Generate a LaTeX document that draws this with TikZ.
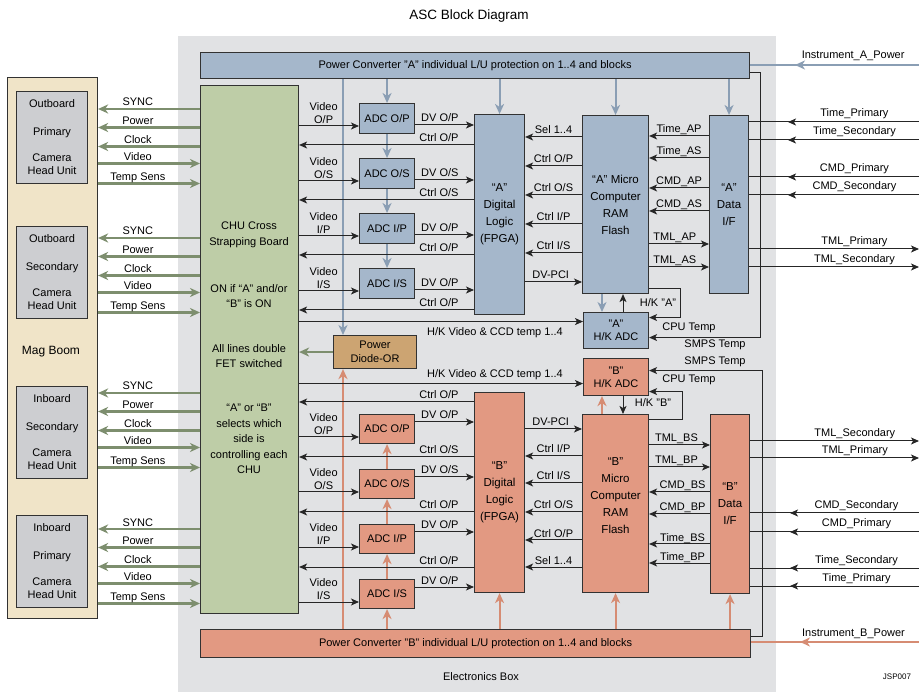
\documentclass[tikz,border=0pt]{standalone}
\usepackage{fontspec}
\setmainfont{Liberation Sans}
\usepackage{tikz}
\usetikzlibrary{arrows.meta,positioning,calc,decorations.markings}
\usepackage{xcolor}
\definecolor{eboxgray}{RGB}{225,226,228}
\definecolor{blueA}{RGB}{165,183,203}
\definecolor{pwrblue}{RGB}{138,158,180}
\definecolor{salmonB}{RGB}{226,153,130}
\definecolor{pwrsalmon}{RGB}{214,140,115}
\definecolor{chugreen}{RGB}{190,205,167}
\definecolor{sigreen}{RGB}{125,142,110}
\definecolor{boomtan}{RGB}{240,228,200}
\definecolor{unitgray}{RGB}{205,206,209}
\definecolor{diodetan}{RGB}{204,164,114}
\definecolor{edgegray}{RGB}{50,50,50}
\newcommand{\labfont}{\fontsize{11}{13}\selectfont}
\newcommand{\blkfont}{\fontsize{11.5}{17}\selectfont}
\newcommand{\chufont}{\fontsize{11}{15.5}\selectfont}

\begin{document}
\begin{tikzpicture}[x=1pt, y=-1pt,
    blk/.style={draw=edgegray, line width=1.1pt, inner sep=0pt, anchor=north west,
      align=center, font=\labfont},
    blkA/.style={blk, fill=blueA},
    blkB/.style={blk, fill=salmonB},
    lab/.style={font=\labfont, text=black, inner sep=0pt, anchor=base, yshift=3pt},
    vlab/.style={font=\labfont, text=black, inner sep=0pt, anchor=south, align=center, yshift=2pt},
    sig/.style={-{Stealth[length=8pt, width=7pt, inset=2pt]}, line width=1pt, black!85},
    sigline/.style={line width=1pt, black!85},
    pwrA/.style={-{Stealth[length=10pt, width=9pt, inset=3pt]}, line width=2pt, pwrblue},
    pwrB/.style={-{Stealth[length=10pt, width=9pt, inset=3pt]}, line width=2pt, pwrsalmon},
    chusig/.style={-{Stealth[length=10pt, width=9pt, inset=3pt]}, line width=2.2pt, sigreen},
    midtip/.style={postaction={decorate, decoration={markings,
        mark=at position #1 with {\arrow{Stealth[length=8pt, width=7pt, inset=2pt]}}}}},
    midtipP/.style={postaction={decorate, decoration={markings,
        mark=at position #1 with {\arrow{Stealth[length=10pt, width=9pt, inset=3pt]}}}}},
  ]
  \useasboundingbox (0,0) rectangle (919,692);
  \fill[white] (0,0) rectangle (919,692);

  % Electronics box
  \fill[eboxgray] (178,36) rectangle (776,692);
  \node[font=\fontsize{13.5}{16}\selectfont] (title) at (469,16) {ASC Block Diagram};
  \node[font=\labfont] (eboxlab) at (481,677) {Electronics Box};
  \node[font=\fontsize{8}{9}\selectfont] (jsp) at (897,677) {JSP007};

  % Mag boom with the four camera head units
  \node[blk, fill=boomtan, minimum width=90pt, minimum height=541pt] (boom) at (7,77) {};
  \node[font=\fontsize{12}{14}\selectfont] (boomlab) at (51,352) {Mag Boom};
  \foreach \u/\y/\a/\b in {OP/91/Outboard/Primary, OS/226/Outboard/Secondary,
                           IS/386/Inboard/Secondary, IP/515/Inboard/Primary} {
    \node[blk, fill=unitgray, minimum width=71pt, minimum height=92pt] (cam\u) at (16,\y)
      {\a\\[15pt]\b\\[13pt]Camera\\Head Unit};
  }

  % CHU cross strapping board
  \node[blk, fill=chugreen, minimum width=98pt, minimum height=528pt] (xboard) at (200,85) {};
  \node[font=\chufont, align=center] (xbt1) at (249,235) {CHU Cross\\Strapping Board};
  \node[font=\chufont, align=center] (xbt2) at (249,296) {ON if “A” and/or\\“B” is ON};
  \node[font=\chufont, align=center] (xbt3) at (249,356) {All lines double\\FET switched};
  \node[font=\chufont, align=center] (xbt4) at (249,439)
    {“A” or “B”\\selects which\\side is\\controlling each\\CHU};

  % Power converters
  \node[blkA, minimum width=549pt, minimum height=26pt] (pcA) at (200,52)
    {Power Converter "A" individual L/U protection on 1..4 and blocks};
  \node[blkB, minimum width=550pt, minimum height=28pt] (pcB) at (200,629)
    {Power Converter "B" individual L/U protection on 1..4 and blocks};

  % Side "A" blocks
  \foreach \nm/\y/\side in {OP/103/{O/P}, OS/158/{O/S}, IP/213/{I/P}, IS/268/{I/S}}
    \node[blkA, minimum width=55pt, minimum height=30pt] (adcA\nm) at (359,\y) {ADC \side};
  \node[blkA, minimum width=50pt, minimum height=200pt, font=\blkfont] (fpgaA) at (474,114)
    {“A”\\Digital\\Logic\\(FPGA)};
  \node[blkA, minimum width=66pt, minimum height=178pt, font=\blkfont] (microA) at (582,115)
    {“A” Micro\\Computer\\RAM\\Flash};
  \node[blkA, minimum width=39pt, minimum height=178pt, font=\blkfont] (dataA) at (709,115)
    {“A”\\Data\\I/F};
  \node[blkA, minimum width=65pt, minimum height=36pt] (hkA) at (583,312) {"A"\\H/K ADC};

  % Diode-OR
  \node[blk, fill=diodetan, minimum width=83pt, minimum height=33pt,
        font=\fontsize{11}{14}\selectfont] (diode) at (333,335) {Power\\Diode-OR};

  % Side "B" blocks
  \foreach \nm/\y/\side in {OP/414/{O/P}, OS/469/{O/S}, IP/524/{I/P}, IS/579/{I/S}}
    \node[blkB, minimum width=55pt, minimum height=29pt] (adcB\nm) at (359,\y) {ADC \side};
  \node[blkB, minimum width=65pt, minimum height=37pt] (hkB) at (583,358) {"B"\\H/K ADC};
  \node[blkB, minimum width=50pt, minimum height=200pt, font=\blkfont] (fpgaB) at (474,392)
    {“B”\\Digital\\Logic\\(FPGA)};
  \node[blkB, minimum width=66pt, minimum height=178pt] (microB) at (582,414) {};
  \node[font=\blkfont, align=center] (microBtxt) at ([yshift=8pt]microB.center)
    {“B”\\Micro\\Computer\\RAM\\Flash};
  \node[blkB, minimum width=39pt, minimum height=179pt, font=\blkfont] (dataB) at (710,414)
    {“B”\\Data\\I/F};

  % Power distribution A
  \draw[pwrA] (adcAOP.north |- pcA.south) -- (adcAOP.north);
  \draw[pwrA] (adcAOP.south) -- (adcAOS.north);
  \draw[pwrA] (adcAOS.south) -- (adcAIP.north);
  \draw[pwrA] (adcAIP.south) -- (adcAIS.north);
  \foreach \b in {fpgaA, microA, dataA}
    \draw[pwrA] (\b.north |- pcA.south) -- (\b.north);
  \coordinate (dioA) at ([xshift=10pt]diode.north west);
  \draw[pwrA] (dioA |- pcA.south) -- (dioA);
  \coordinate (mhA) at ([xshift=20pt]microA.south west);
  \draw[pwrA] (mhA) -- (mhA |- hkA.north);
  \coordinate (instA) at (919,65);
  \draw[line width=2pt, pwrblue, midtipP=124pt] (instA) -- (instA -| pcA.east)
    node[lab, pos=.39, yshift=3pt] {Instrument\_A\_Power};

  % Power distribution B
  \draw[pwrB] (adcBIS.south |- pcB.north) -- (adcBIS.south);
  \draw[pwrB] (adcBIS.north) -- (adcBIP.south);
  \draw[pwrB] (adcBIP.north) -- (adcBOS.south);
  \draw[pwrB] (adcBOS.north) -- (adcBOP.south);
  \foreach \b in {fpgaB, microB, dataB}
    \draw[pwrB] (\b.south |- pcB.north) -- (\b.south);
  \coordinate (dioB) at ([xshift=10pt]diode.south west);
  \draw[pwrB] (dioB |- pcB.north) -- (dioB);
  \coordinate (mhB) at ([xshift=20pt]microB.north west);
  \draw[pwrB] (mhB) -- (mhB |- hkB.south);
  \coordinate (instB) at (919,642);
  \draw[line width=2pt, pwrsalmon, midtipP=119pt] (instB) -- (instB -| pcB.east)
    node[lab, pos=.39, yshift=3pt] {Instrument\_B\_Power};
  \draw[chusig] (diode.west) -- (xboard.east |- diode.west);

  % Camera head unit lines
  \foreach \y in {109,238,393,529} {
    \foreach \dy/\s in {0/SYNC, 18.5/Power, 37.5/Clock}
      \draw[chusig] (xboard.west |- 0,\y+\dy) -- (boom.east |- 0,\y+\dy)
        node[lab, pos=.61] {\s};
    \foreach \dy/\s in {54.5/Video, 74.5/Temp Sens}
      \draw[chusig] (boom.east |- 0,\y+\dy) -- (xboard.west |- 0,\y+\dy)
        node[lab, pos=.39] {\s};
  }

  % Side A signals
  \foreach \nm/\y/\side/\dv in {OP/103/{O/P}/{O/P}, OS/158/{O/S}/{O/S},
                                IP/213/{I/P}/{O/P}, IS/268/{I/S}/{O/P}} {
    \draw[sig] (xboard.east |- 0,\y+23) -- (adcA\nm.west |- 0,\y+23)
      node[vlab, pos=.41] {Video\\\side};
    \draw[sig] (adcA\nm.east |- 0,\y+22) -- (fpgaA.west |- 0,\y+22)
      node[lab, pos=.42] {DV \dv};
    \draw[sig] (fpgaA.west |- 0,\y+42) -- (xboard.east |- 0,\y+42)
      node[lab, pos=.2] {Ctrl \dv};
  }
  \foreach \y/\s in {137/{Sel 1..4}, 166/{Ctrl O/P}, 195/{Ctrl O/S}, 224/{Ctrl I/P}, 253/{Ctrl I/S}}
    \draw[sig] (microA.west |- 0,\y) -- (fpgaA.east |- 0,\y) node[lab, pos=.5] {\s};
  \draw[sig] (fpgaA.east |- 0,282) -- (microA.west |- 0,282) node[lab, pos=.45] {DV-PCI};
  \foreach \y/\s in {136/Time\_AP, 158/Time\_AS, 188/CMD\_AP, 211/CMD\_AS}
    \draw[sig] (dataA.west |- 0,\y) -- (microA.east |- 0,\y) node[lab, pos=.5] {\s};
  \foreach \y/\s in {244/TML\_AP, 267/TML\_AS}
    \draw[sig] (microA.east |- 0,\y) -- (dataA.west |- 0,\y) node[lab, pos=.43] {\s};
  \foreach \y/\s in {122/Time\_Primary, 140/Time\_Secondary, 177/CMD\_Primary, 195/CMD\_Secondary} {
    \coordinate (ext) at (919,\y);
    \draw[sigline, midtip=131pt] (ext) -- (dataA.east |- ext) node[lab, pos=.38, yshift=2pt] {\s};
  }
  \foreach \y/\s in {249/TML\_Primary, 267/TML\_Secondary} {
    \coordinate (ext) at (919,\y);
    \draw[sig] (dataA.east |- ext) -- (ext) node[lab, pos=.62, yshift=1pt] {\s};
  }

  % Side A housekeeping
  \coordinate (hkAin) at ([yshift=9pt]hkA.west);
  \draw[sig] (xboard.east |- hkAin) -- (hkAin)
    node[lab, pos=.69, yshift=-17pt] {H/K Video \& CCD temp 1..4};
  \coordinate (hkAup) at ([xshift=40pt]hkA.north west);
  \draw[sig] (hkAup) -- (hkAup |- microA.south);
  \node[font=\labfont] (hkAlab) at (658,303) {H/K "A"};
  \draw[sig] ([yshift=6pt]microA.south east) -- ++(31,0) |- ([yshift=13pt]hkA.east);
  \draw[sig] ([yshift=-7pt]pcA.east) -- ++(10,0) |- ([yshift=-7pt]hkA.east);
  \node[font=\labfont] (cpuAlab) at (689,328) {CPU Temp};
  \node[font=\labfont] (smpsAlab) at (715,345) {SMPS Temp};

  % Side B housekeeping
  \coordinate (hkBin) at ([yshift=-6.5pt]hkB.west);
  \draw[sig] (xboard.east |- hkBin) -- (hkBin)
    node[lab, pos=.69, yshift=3pt] {H/K Video \& CCD temp 1..4};
  \coordinate (hkBdn) at ([xshift=40pt]hkB.south west);
  \draw[sig] (hkBdn) -- (hkBdn |- microB.north);
  \node[font=\labfont] (hkBlab) at (653,403) {H/K "B"};
  \draw[sig] ([yshift=-6pt]microB.north east) -- ++(33,0) |- ([yshift=-14.5pt]hkB.east);
  \draw[sig] ([yshift=7pt]pcB.east) -- ++(11,0) |- ([yshift=6.5pt]hkB.east);
  \node[font=\labfont] (cpuBlab) at (689,380) {CPU Temp};
  \node[font=\labfont] (smpsBlab) at (715,362) {SMPS Temp};

  % Side B signals
  \foreach \nm/\y/\side/\dv in {OP/414/{O/P}/{O/P}, OS/469/{O/S}/{O/S},
                                IP/524/{I/P}/{O/P}, IS/579/{I/S}/{O/P}} {
    \draw[sig] (xboard.east |- 0,\y+23) -- (adcB\nm.west |- 0,\y+23)
      node[vlab, pos=.41] {Video\\\side};
    \draw[sig] (adcB\nm.east |- 0,\y+8) -- (fpgaB.west |- 0,\y+8)
      node[lab, pos=.42] {DV \dv};
    \draw[sig] (fpgaB.west |- 0,\y-12) -- (xboard.east |- 0,\y-12)
      node[lab, pos=.2] {Ctrl \dv};
  }
  \draw[sig] (fpgaB.east |- 0,429) -- (microB.west |- 0,429) node[lab, pos=.45] {DV-PCI};
  \foreach \y/\s in {456/{Ctrl I/P}, 483/{Ctrl I/S}, 512/{Ctrl O/S}, 540/{Ctrl O/P}, 567/{Sel 1..4}}
    \draw[sig] (microB.west |- 0,\y) -- (fpgaB.east |- 0,\y) node[lab, pos=.5] {\s};
  \foreach \y/\s in {445/TML\_BS, 467/TML\_BP}
    \draw[sig] (microB.east |- 0,\y) -- (dataB.west |- 0,\y) node[lab, pos=.45] {\s};
  \foreach \y/\s in {492/CMD\_BS, 514/CMD\_BP, 544/Time\_BS, 563/Time\_BP}
    \draw[sig] (dataB.west |- 0,\y) -- (microB.east |- 0,\y) node[lab, pos=.45] {\s};
  \foreach \y/\s in {441/TML\_Secondary, 458/TML\_Primary} {
    \coordinate (ext) at (919,\y);
    \draw[sig] (dataB.east |- ext) -- (ext) node[lab, pos=.62, yshift=1pt] {\s};
  }
  \foreach \y/\s in {513/CMD\_Secondary, 532/CMD\_Primary, 568/Time\_Secondary, 586/Time\_Primary} {
    \coordinate (ext) at (919,\y);
    \draw[sigline, midtip=129pt] (ext) -- (dataB.east |- ext) node[lab, pos=.37, yshift=2pt] {\s};
  }
\end{tikzpicture}
\end{document}
